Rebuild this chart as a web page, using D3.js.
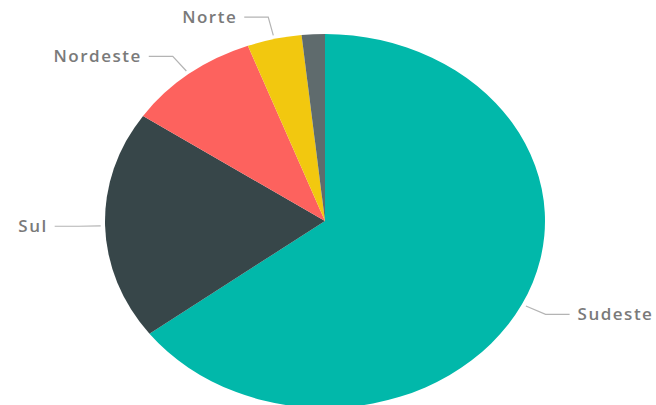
<!DOCTYPE html>
<html><head><meta charset="utf-8">
<script src="https://cdn.jsdelivr.net/npm/d3@7"></script>
<style>body{margin:0;background:#fff}svg{display:block}</style>
</head><body>
<svg id="c" width="656" height="405"></svg>
<script>
const categories = ["Sudeste", "Sul", "Nordeste", "Norte", "Centro-Oeste"];
const values = [64.7, 19.8, 9.8, 4.0, 1.7];
const colors = ["#01B8AA", "#374649", "#FD625E", "#F2C80F", "#5F6B6D"];
const showLabel = [true, true, true, true, false];

const svg = d3.select("#c");
const cx = 325, cy = 221, ry = 187, rx = 220;
const sx = rx / ry;
const data = categories.map((c, i) => ({ name: c, value: values[i], color: colors[i], label: showLabel[i] }));
const pie = d3.pie().value(d => d.value).sort(null);
const arcs = pie(data);
const arc = d3.arc().innerRadius(0).outerRadius(ry);

svg.append("g").attr("transform", `translate(${cx},${cy}) scale(${sx},1)`)
  .selectAll("path").data(arcs).join("path")
  .attr("d", arc).attr("fill", d => d.data.color);

const pt = (a, f) => [cx + Math.sin(a) * rx * f, cy - Math.cos(a) * ry * f];
const lg = svg.append("g");
arcs.filter(d => d.data.label).forEach(d => {
  const a = (d.startAngle + d.endAngle) / 2;
  const p0 = pt(a, 1.02), p1 = pt(a, 1.12);
  const right = Math.sin(a) > 0;
  const p2 = [p1[0] + (right ? 24 : -24), p1[1]];
  lg.append("path").attr("d", d3.line()([p0, p1, p2]))
    .attr("fill", "none").attr("stroke", "#b4b4b4").attr("stroke-width", 1.2);
  lg.append("text").attr("x", p2[0] + (right ? 8 : -7)).attr("y", p2[1])
    .attr("dy", "0.35em").attr("text-anchor", right ? "start" : "end")
    .attr("font-family", "'Open Sans', sans-serif").attr("font-size", 17)
    .attr("letter-spacing", 1.5)
    .attr("font-weight", 600).attr("fill", "#7a7a7a").text(d.data.name);
});
</script>
</body></html>
